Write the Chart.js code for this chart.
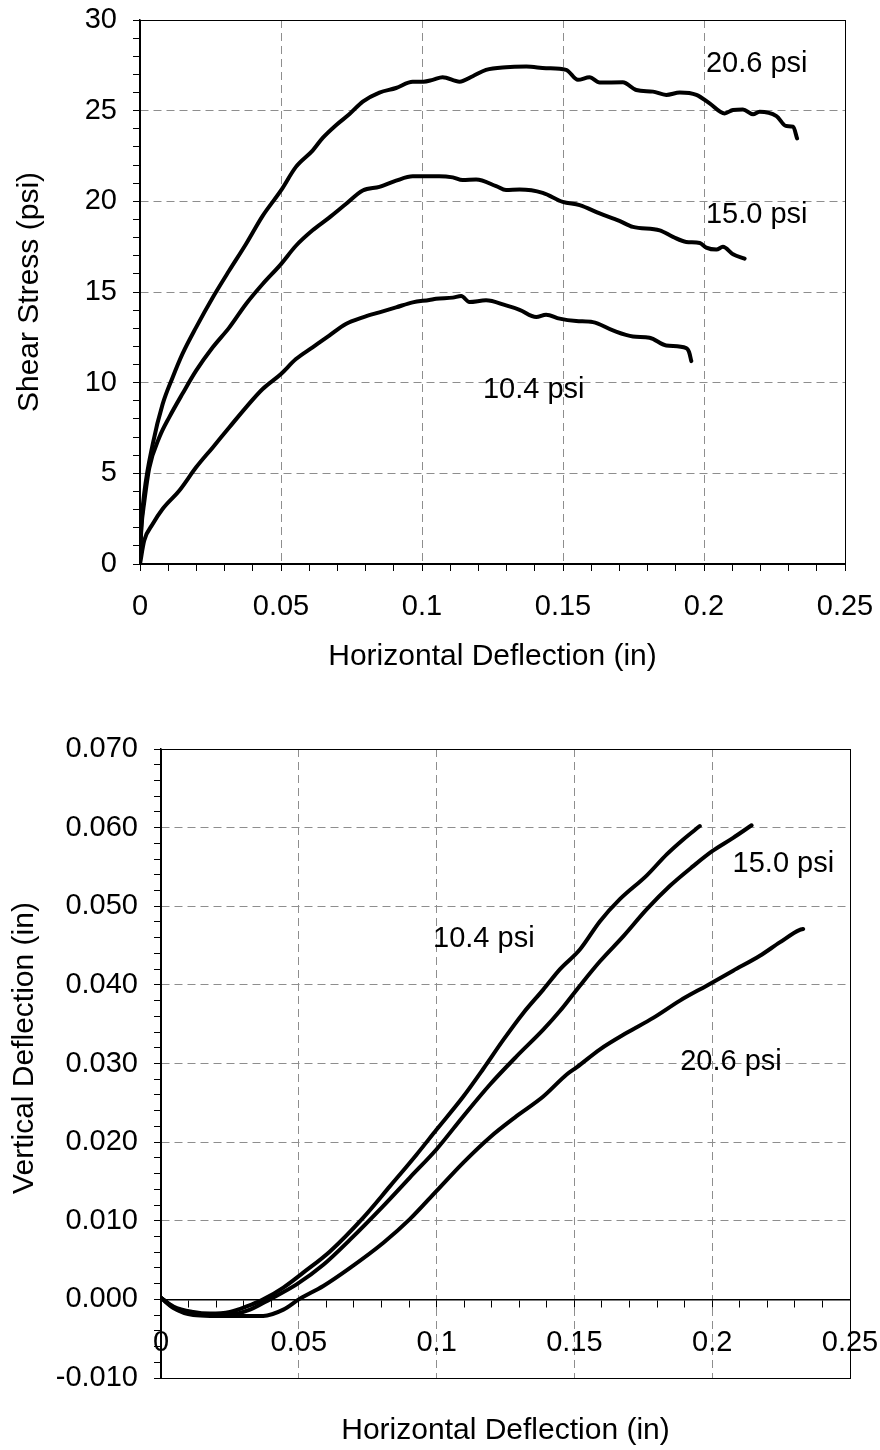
<!DOCTYPE html>
<html>
<head>
<meta charset="utf-8">
<script src="https://cdn.jsdelivr.net/npm/chart.js@4.4.1/dist/chart.umd.min.js"></script>
<style>
    html, body { margin: 0; padding: 0; background: #fff; }
    #wrap { position: relative; width: 880px; height: 1450px; }
    #wrap canvas { position: absolute; left: 0; }
</style>
</head>
<body>
<div id="wrap">
    <canvas id="shearChart" width="880" height="700" style="top:0"></canvas>
    <canvas id="vertChart" width="880" height="750" style="top:700px"></canvas>
</div>
<script>
// ---- Shear stress vs horizontal deflection (top chart) ----
const shearX206 = [0, 0.0005, 0.0015, 0.0045, 0.008, 0.0116, 0.0151, 0.0199, 0.0258, 0.0317, 0.0376, 0.0435, 0.05, 0.0553, 0.0612, 0.0648, 0.0695, 0.0742, 0.079, 0.0849, 0.0908, 0.0967, 0.1005, 0.1038, 0.1073, 0.1133, 0.118, 0.1227, 0.1298, 0.137, 0.144, 0.1511, 0.1553, 0.1594, 0.163, 0.1712, 0.176, 0.1819, 0.1866, 0.1914, 0.1973, 0.202, 0.2073, 0.2103, 0.2138, 0.2174, 0.2197, 0.2257, 0.2292, 0.2316, 0.233];
const shearY206 = [0.3, 2.2, 3.9, 6.6, 8.8, 10.3, 11.6, 13.05, 14.7, 16.2, 17.65, 19.2, 20.6, 21.9, 22.8, 23.5, 24.2, 24.8, 25.5, 26.0, 26.25, 26.6, 26.6, 26.7, 26.84, 26.6, 26.9, 27.25, 27.4, 27.43, 27.34, 27.25, 26.7, 26.84, 26.55, 26.57, 26.14, 26.05, 25.87, 26.0, 25.87, 25.4, 24.85, 25.04, 25.07, 24.8, 24.94, 24.7, 24.15, 24.12, 23.47];

const shearX150 = [0, 0.0005, 0.0015, 0.0033, 0.0069, 0.0104, 0.0151, 0.0199, 0.0258, 0.0317, 0.0376, 0.0435, 0.05, 0.0553, 0.0612, 0.0671, 0.073, 0.079, 0.0849, 0.0908, 0.0967, 0.1026, 0.1061, 0.1109, 0.1144, 0.1192, 0.1263, 0.1298, 0.1346, 0.1428, 0.1499, 0.1559, 0.163, 0.17, 0.1748, 0.1843, 0.189, 0.1937, 0.1985, 0.2008, 0.2044, 0.2067, 0.2103, 0.2144];
const shearY150 = [0.3, 2.0, 3.4, 5.3, 7.0, 8.1, 9.4, 10.66, 11.95, 13.05, 14.34, 15.44, 16.54, 17.55, 18.4, 19.1, 19.85, 20.6, 20.8, 21.14, 21.38, 21.38, 21.39, 21.32, 21.17, 21.2, 20.84, 20.62, 20.65, 20.47, 19.97, 19.79, 19.33, 18.92, 18.59, 18.4, 18.04, 17.76, 17.7, 17.45, 17.34, 17.49, 17.08, 16.84];

const shearX104 = [0, 0.0015, 0.0045, 0.008, 0.0139, 0.0199, 0.0258, 0.0317, 0.0376, 0.0435, 0.05, 0.0553, 0.0612, 0.0671, 0.073, 0.079, 0.0849, 0.0908, 0.0967, 0.1026, 0.105, 0.1109, 0.1139, 0.1168, 0.1227, 0.1298, 0.1346, 0.1405, 0.144, 0.1488, 0.1547, 0.1606, 0.1677, 0.1748, 0.1807, 0.1866, 0.1937, 0.1947, 0.1955];
const shearY104 = [0, 1.29, 2.2, 3.03, 4.04, 5.33, 6.43, 7.54, 8.64, 9.65, 10.48, 11.3, 11.95, 12.6, 13.24, 13.6, 13.88, 14.15, 14.43, 14.56, 14.63, 14.69, 14.78, 14.45, 14.54, 14.26, 14.02, 13.62, 13.75, 13.53, 13.4, 13.34, 12.88, 12.55, 12.48, 12.05, 11.91, 11.69, 11.19];

// ---- Vertical vs horizontal deflection (bottom chart) ----
const vertX104 = [0, 0.0045, 0.0117, 0.0178, 0.025, 0.0311, 0.0371, 0.0444, 0.0516, 0.0613, 0.0734, 0.0831, 0.0927, 0.1, 0.1097, 0.1169, 0.1242, 0.1314, 0.1387, 0.1448, 0.152, 0.1593, 0.1665, 0.1762, 0.1835, 0.1895, 0.1955];
const vertY104 = [0.0002, -0.0009, -0.0016, -0.0018, -0.0016, -0.0009, 0.0, 0.0015, 0.0034, 0.0061, 0.0104, 0.0144, 0.0184, 0.0216, 0.0258, 0.0293, 0.033, 0.0364, 0.0394, 0.042, 0.0445, 0.0481, 0.0509, 0.0539, 0.0566, 0.0585, 0.0602];

const vertX150 = [0, 0.0045, 0.0117, 0.0178, 0.025, 0.0323, 0.0395, 0.0492, 0.0589, 0.0686, 0.0807, 0.0903, 0.1, 0.1097, 0.1193, 0.129, 0.1387, 0.1448, 0.152, 0.1593, 0.1678, 0.1762, 0.1847, 0.1931, 0.2, 0.2076, 0.2143];
const vertY150 = [0.0002, -0.001, -0.0018, -0.0019, -0.0019, -0.0013, 0.0, 0.0019, 0.0044, 0.0076, 0.0119, 0.0155, 0.0191, 0.0233, 0.0273, 0.0309, 0.0343, 0.0367, 0.0399, 0.043, 0.0462, 0.0496, 0.0526, 0.0551, 0.057, 0.0587, 0.0603];

const vertX206 = [0, 0.0045, 0.0117, 0.0178, 0.025, 0.0311, 0.0371, 0.0444, 0.05, 0.0589, 0.0686, 0.0807, 0.0903, 0.1, 0.1097, 0.1193, 0.129, 0.1387, 0.1472, 0.1508, 0.1593, 0.169, 0.1786, 0.1883, 0.198, 0.2076, 0.2173, 0.2245, 0.2318, 0.233];
const vertY206 = [0.0002, -0.0011, -0.002, -0.0021, -0.0021, -0.0021, -0.0021, -0.0013, 0.0, 0.0017, 0.004, 0.0072, 0.0102, 0.0138, 0.0174, 0.0206, 0.0233, 0.0258, 0.0286, 0.0295, 0.0318, 0.0339, 0.0358, 0.038, 0.0399, 0.0418, 0.0437, 0.0454, 0.047, 0.0471];

// Tick labels (major ticks); minor ticks are drawn between them
const deflTicks = [0, 0.05, 0.1, 0.15, 0.2, 0.25];
const shearTicks = [0, 5, 10, 15, 20, 25, 30];
const vertTicks = [-0.01, 0, 0.01, 0.02, 0.03, 0.04, 0.05, 0.06, 0.07];

// Curve labels: [text, x, y] in data units (left edge, baseline)
const shearNotes = [['20.6 psi', 0.2007, 27.14], ['15.0 psi', 0.2007, 18.81], ['10.4 psi', 0.1216, 9.16]];
const vertNotes = [['15.0 psi', 0.2074, 0.05436], ['10.4 psi', 0.0987, 0.04483], ['20.6 psi', 0.1884, 0.02913]];

Chart.defaults.font.family = "'Liberation Sans', Arial, sans-serif";
Chart.defaults.color = '#000';

function toPoints(xs, ys) {
    return xs.map((x, i) => ({ x: x, y: ys[i] }));
}

function curve(xs, ys) {
    return {
        data: toPoints(xs, ys),
        showLine: true,
        borderColor: '#000',
        borderWidth: 4,
        borderJoinStyle: 'round',
        borderCapStyle: 'round',
        pointRadius: 0,
        cubicInterpolationMode: 'monotone'
    };
}

function isIn(list, v) {
    return list.some(t => Math.abs(t - v) < 1e-9);
}

// ticks at every minor step, so tick marks show between the labels
function everyStep(step) {
    return function (scale) {
        const n = Math.round((scale.max - scale.min) / step);
        const ticks = [];
        for (let i = 0; i <= n; i++) {
            ticks.push({ value: +(scale.min + i * step).toFixed(6) });
        }
        scale.ticks = ticks;
    };
}

// fixed axis size, and no extra room for the end labels
function fixSize(w, h) {
    return function (s) {
        if (w) s.width = w;
        if (h) s.height = h;
        s.paddingLeft = 0;
        s.paddingRight = 0;
        s.paddingTop = 0;
        s.paddingBottom = 0;
    };
}

function gridFor(majors, min, max) {
    return {
        color: ctx => {
            const v = ctx.tick ? ctx.tick.value : null;
            if (v === null || !isIn(majors, v) || Math.abs(v - min) < 1e-9 || Math.abs(v - max) < 1e-9) {
                return 'rgba(0,0,0,0)';
            }
            return '#8e8e8e';
        },
        lineWidth: 1,
        tickColor: '#000',
        tickLength: 7,
        tickWidth: 1
    };
}

// thin frame round the plot area
const frame = {
    id: 'frame',
    beforeDatasetsDraw(chart) {
        const a = chart.chartArea;
        const ctx = chart.ctx;
        ctx.save();
        ctx.strokeStyle = '#000';
        ctx.lineWidth = 1;
        ctx.strokeRect(Math.round(a.left) + 0.5, Math.round(a.top) + 0.5, Math.round(a.right - a.left), Math.round(a.bottom - a.top));
        ctx.restore();
    }
};

const notes = {
    id: 'notes',
    afterDatasetsDraw(chart, args, opts) {
        const ctx = chart.ctx;
        ctx.save();
        ctx.font = "29px 'Liberation Sans', Arial, sans-serif";
        ctx.fillStyle = '#000';
        ctx.textAlign = 'left';
        ctx.textBaseline = 'alphabetic';
        (opts.items || []).forEach(n => {
            ctx.fillText(n[0], chart.scales.x.getPixelForValue(n[1]), chart.scales.y.getPixelForValue(n[2]));
        });
        // rotated side title, when the chart asks for one
        if (opts.sideTitle) {
            ctx.translate(opts.sideTitle.x, opts.sideTitle.y);
            ctx.rotate(-Math.PI / 2);
            ctx.font = "30px 'Liberation Sans', Arial, sans-serif";
            ctx.textAlign = 'center';
            ctx.textBaseline = 'middle';
            ctx.fillText(opts.sideTitle.text, 0, 0);
        }
        ctx.restore();
    }
};

const tickFont = { size: 29 };
const titleFont = { size: 30 };

// Top chart
new Chart(document.getElementById('shearChart'), {
    type: 'scatter',
    data: {
        datasets: [curve(shearX206, shearY206), curve(shearX150, shearY150), curve(shearX104, shearY104)]
    },
    options: {
        responsive: false,
        animation: false,
        layout: { padding: { top: 20, right: 35, left: 0, bottom: 0 } },
        plugins: {
            legend: { display: false },
            tooltip: { enabled: false },
            notes: { items: shearNotes }
        },
        scales: {
            x: {
                type: 'linear',
                min: 0,
                max: 0.25,
                afterBuildTicks: everyStep(0.01),
                afterFit: fixSize(0, 136),
                grid: gridFor(deflTicks, 0, 0.25),
                border: { color: '#000', width: 1.5, dash: [8, 5] },
                ticks: {
                    autoSkip: false,
                    maxRotation: 0,
                    minRotation: 0,
                    padding: 19,
                    font: tickFont,
                    callback: v => isIn(deflTicks, v) ? String(+v.toFixed(2)) : ''
                },
                title: { display: true, text: 'Horizontal Deflection (in)', font: titleFont, padding: { top: 0, bottom: 25 } }
            },
            y: {
                type: 'linear',
                min: 0,
                max: 30,
                afterBuildTicks: everyStep(1),
                afterFit: fixSize(140, 0),
                grid: gridFor(shearTicks, 0, 30),
                border: { color: '#000', width: 1.5, dash: [8, 5] },
                ticks: {
                    autoSkip: false,
                    padding: 16,
                    font: tickFont,
                    callback: v => isIn(shearTicks, v) ? String(Math.round(v)) : ''
                },
                title: { display: true, text: 'Shear Stress (psi)', font: titleFont, padding: { top: 12, bottom: 0 } }
            }
        }
    },
    plugins: [frame, notes]
});

// Bottom chart
new Chart(document.getElementById('vertChart'), {
    type: 'scatter',
    data: {
        datasets: [curve(vertX104, vertY104), curve(vertX150, vertY150), curve(vertX206, vertY206)]
    },
    options: {
        responsive: false,
        animation: false,
        layout: { padding: { top: 49, right: 30, left: 0, bottom: 72 } },
        plugins: {
            legend: { display: false },
            tooltip: { enabled: false },
            // y title sits a little above the plot centre in the original
            notes: { items: vertNotes, sideTitle: { text: 'Vertical Deflection (in)', x: 25, y: 348 } }
        },
        scales: {
            x: {
                type: 'linear',
                position: { y: 0 },
                min: 0,
                max: 0.25,
                afterBuildTicks: everyStep(0.01),
                afterFit: fixSize(0, 150),
                grid: gridFor(deflTicks, 0, 0.25),
                border: { color: '#000', width: 1.5, dash: [8, 5] },
                ticks: {
                    autoSkip: false,
                    maxRotation: 0,
                    minRotation: 0,
                    padding: 19,
                    font: tickFont,
                    callback: v => isIn(deflTicks, v) ? String(+v.toFixed(2)) : ''
                },
                title: { display: true, text: 'Horizontal Deflection (in)', font: titleFont, padding: { top: 0, bottom: 1 } }
            },
            y: {
                type: 'linear',
                min: -0.01,
                max: 0.07,
                afterBuildTicks: everyStep(0.002),
                afterFit: fixSize(161, 0),
                grid: gridFor(vertTicks, -0.01, 0.07),
                border: { color: '#000', width: 1.5, dash: [8, 5] },
                ticks: {
                    autoSkip: false,
                    padding: 16,
                    font: tickFont,
                    callback: v => isIn(vertTicks, v) ? v.toFixed(3) : ''
                },
                title: { display: false }
            }
        }
    },
    plugins: [frame, notes]
});
</script>
</body>
</html>
